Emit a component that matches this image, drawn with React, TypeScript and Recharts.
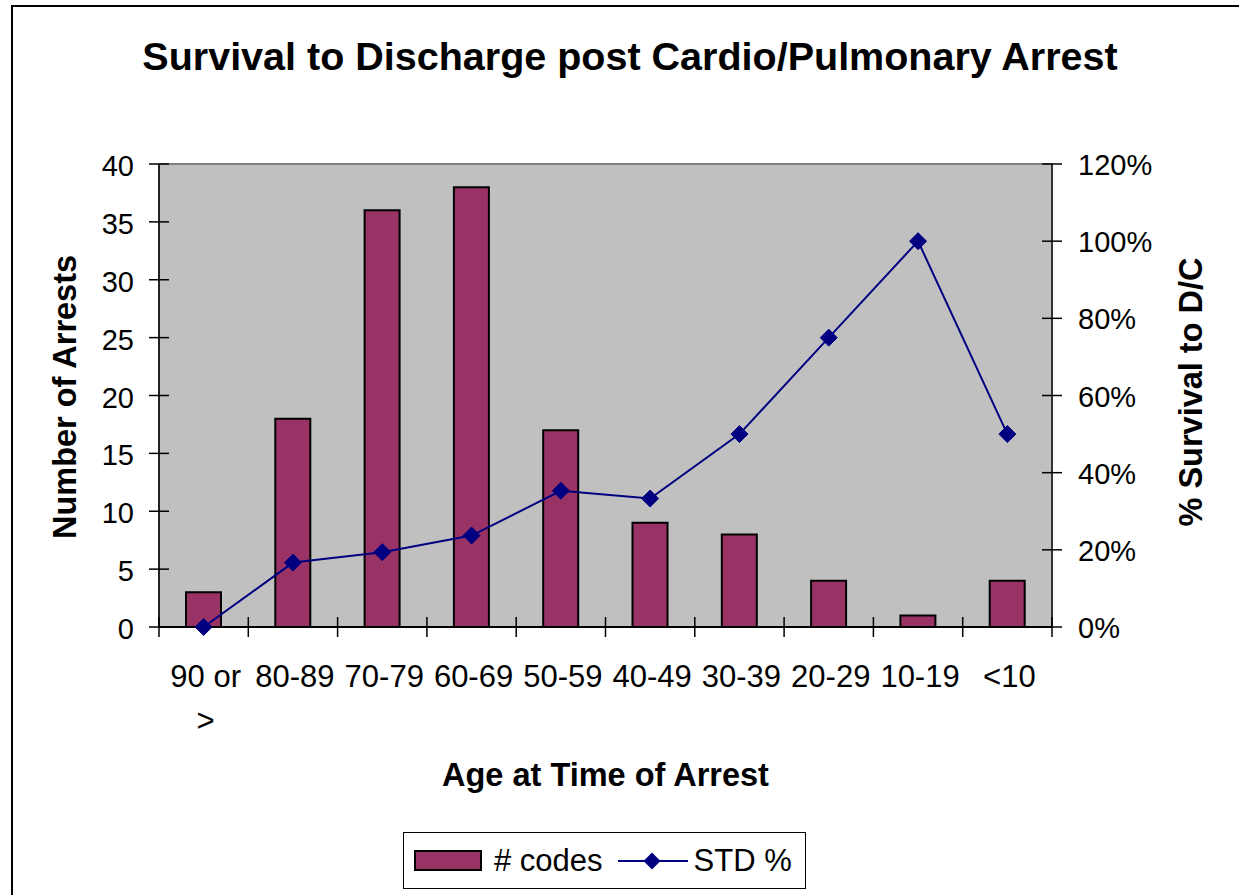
import React from 'react';
import { ComposedChart, Bar, Line, XAxis, YAxis, Legend, ReferenceLine, CartesianGrid } from 'recharts';

const categories = ['90 or >', '80-89', '70-79', '60-69', '50-59', '40-49', '30-39', '20-29', '10-19', '<10'];
const codes = [3, 18, 36, 38, 17, 9, 8, 4, 1, 4];
const stdPct = [0, 0.167, 0.194, 0.237, 0.353, 0.333, 0.5, 0.75, 1.0, 0.5];
const leftTicks = [0, 5, 10, 15, 20, 25, 30, 35, 40];
const rightTicks = [0, 0.2, 0.4, 0.6, 0.8, 1.0, 1.2];

const TITLE = 'Survival to Discharge post Cardio/Pulmonary Arrest';
const X_LABEL = 'Age at Time of Arrest';
const Y_LABEL = 'Number of Arrests';
const Y2_LABEL = '% Survival to D/C';
const BAR_NAME = '# codes';
const LINE_NAME = 'STD %';

const data = categories.map((c, i) => ({ cat: c, codes: codes[i], std: stdPct[i] }));

const W = 1239;
const H = 895;
const PLOT_LEFT = 159;
const PLOT_RIGHT = 1052;
const PLOT_TOP = 164;
const PLOT_BOTTOM = 627;
const BAND = (PLOT_RIGHT - PLOT_LEFT) / categories.length;
const FONT = '"Liberation Sans", Arial, sans-serif';
const BAR_COLOR = '#993366';
const LINE_COLOR = '#000080';
const X_FS = 31;

const charW = (ch: string) => {
  if (ch === ' ') return 0.278;
  if (ch === '-') return 0.333;
  if (ch === '<' || ch === '>') return 0.584;
  if (ch === 'r') return 0.333;
  return 0.556;
};

const wrapLabel = (label: string, maxW: number, fs: number) => {
  const words = label.split(' ');
  const lines: string[] = [];
  let cur = '';
  const width = (s: string) => s.split('').reduce((a, c) => a + charW(c) * fs, 0);
  words.forEach((w) => {
    const cand = cur ? cur + ' ' + w : w;
    if (cur && width(cand) > maxW) {
      lines.push(cur);
      cur = w;
    } else {
      cur = cand;
    }
  });
  if (cur) lines.push(cur);
  return lines;
};

const LeftTick = (props: any) => {
  const { x, y, payload } = props;
  return (
    <g>
      <line x1={x + 15} x2={x + 35} y1={y} y2={y} stroke="#000" strokeWidth={1.5} />
      <text x={x} y={y + 12} textAnchor="end" fontSize={29} fontFamily={FONT} fill="#000">
        {payload.value}
      </text>
    </g>
  );
};

const RightTick = (props: any) => {
  const { x, y, payload } = props;
  return (
    <g>
      <line x1={x - 36} x2={x - 16} y1={y} y2={y} stroke="#000" strokeWidth={1.5} />
      <text x={x} y={y + 11} textAnchor="start" fontSize={29} fontFamily={FONT} fill="#000">
        {Math.round(payload.value * 100) + '%'}
      </text>
    </g>
  );
};

const XTick = (props: any) => {
  const { x, y, payload, index } = props;
  const last = index === categories.length - 1;
  const lines = wrapLabel(String(payload.value), 86, X_FS);
  return (
    <g>
      <line x1={x - BAND / 2} x2={x - BAND / 2} y1={y - 20} y2={y} stroke="#000" strokeWidth={1.5} />
      {last && <line x1={x + BAND / 2} x2={x + BAND / 2} y1={y - 20} y2={y} stroke="#000" strokeWidth={1.5} />}
      <text textAnchor="middle" fontSize={X_FS} fontFamily={FONT} fill="#000">
        {lines.map((l, i) => (
          <tspan key={i} x={x + 2} y={y + 50 + i * 44}>
            {l}
          </tspan>
        ))}
      </text>
    </g>
  );
};

const Diamond = (props: any) => {
  const { cx, cy } = props;
  if (cx == null || cy == null) return null;
  const r = 8.5;
  return (
    <polygon
      points={`${cx},${cy - r} ${cx + r},${cy} ${cx},${cy + r} ${cx - r},${cy}`}
      fill={LINE_COLOR}
      stroke={LINE_COLOR}
    />
  );
};

const LegendContent = () => (
  <div
    style={{
      width: 403,
      height: 57,
      boxSizing: 'border-box',
      border: '1.5px solid #000',
      background: '#fff',
      display: 'flex',
      alignItems: 'center',
      fontFamily: FONT,
      fontSize: 31,
      color: '#000',
    }}
  >
    <svg width={80} height={30} style={{ marginLeft: 10 }}>
      <rect x={1} y={5} width={66} height={19} fill={BAR_COLOR} stroke="#000" strokeWidth={2} />
    </svg>
    <span>{BAR_NAME}</span>
    <svg width={72} height={30} style={{ marginLeft: 15 }}>
      <line x1={0} x2={70} y1={15} y2={15} stroke={LINE_COLOR} strokeWidth={2} />
      <polygon points="34,6.5 42.5,15 34,23.5 25.5,15" fill={LINE_COLOR} />
    </svg>
    <span style={{ marginLeft: 4 }}>{LINE_NAME}</span>
  </div>
);

export default function App() {
  return (
    <div style={{ position: 'absolute', left: 0, top: 0, width: W, height: H, overflow: 'hidden', background: '#fff' }}>
      <div
        style={{
          position: 'absolute',
          left: 11,
          top: 5,
          width: W,
          height: H,
          borderLeft: '2px solid #000',
          borderTop: '2px solid #000',
        }}
      />
      <div style={{ position: 'absolute', left: 0, top: 0 }}>
        <ComposedChart
          width={W}
          height={H}
          data={data}
          margin={{ top: PLOT_TOP, bottom: H - PLOT_BOTTOM - 30, left: PLOT_LEFT - 60, right: W - PLOT_RIGHT - 100 }}
          barSize={35}
        >
          <CartesianGrid fill="#C0C0C0" horizontal={false} vertical={false} stroke="none" />
          <XAxis
            dataKey="cat"
            height={30}
            tickSize={10}
            tickMargin={0}
            tickLine={false}
            axisLine={{ stroke: '#000', strokeWidth: 2 }}
            tick={<XTick />}
            interval={0}
          />
          <YAxis
            yAxisId="left"
            orientation="left"
            width={60}
            domain={[0, 40]}
            ticks={leftTicks}
            tickSize={10}
            tickMargin={15}
            tickLine={false}
            axisLine={{ stroke: '#222', strokeWidth: 2 }}
            tick={<LeftTick />}
            interval={0}
          />
          <YAxis
            yAxisId="right"
            orientation="right"
            width={100}
            domain={[0, 1.2]}
            ticks={rightTicks}
            tickSize={10}
            tickMargin={16}
            tickLine={false}
            axisLine={{ stroke: '#333', strokeWidth: 2 }}
            tick={<RightTick />}
            interval={0}
          />
          <ReferenceLine yAxisId="left" y={40} stroke="#808080" strokeWidth={2} />
          <Bar
            yAxisId="left"
            dataKey="codes"
            name={BAR_NAME}
            fill={BAR_COLOR}
            stroke="#000"
            strokeWidth={2}
            isAnimationActive={false}
          />
          <Line
            yAxisId="right"
            dataKey="std"
            name={LINE_NAME}
            stroke={LINE_COLOR}
            strokeWidth={2}
            dot={<Diamond />}
            activeDot={false}
            type="linear"
            isAnimationActive={false}
          />
          <Legend
            layout="horizontal"
            align="center"
            verticalAlign="middle"
            wrapperStyle={{ left: 403, top: 832, width: 403, height: 57 }}
            content={<LegendContent />}
          />
        </ComposedChart>
      </div>
      <svg width={W} height={H} style={{ position: 'absolute', left: 0, top: 0, pointerEvents: 'none' }}>
        <text x={630} y={70} textAnchor="middle" fontSize={39.5} fontWeight="bold" fontFamily={FONT} fill="#000">
          {TITLE}
        </text>
        <text x={(PLOT_LEFT + PLOT_RIGHT) / 2} y={786} textAnchor="middle" fontSize={32.5} fontWeight="bold" fontFamily={FONT} fill="#000">
          {X_LABEL}
        </text>
        <text x={76} y={397} transform="rotate(-90, 76, 397)" textAnchor="middle" fontSize={32.5} fontWeight="bold" fontFamily={FONT} fill="#000">
          {Y_LABEL}
        </text>
        <text x={1202} y={392} transform="rotate(-90, 1202, 392)" textAnchor="middle" fontSize={32.5} fontWeight="bold" fontFamily={FONT} fill="#000">
          {Y2_LABEL}
        </text>
      </svg>
    </div>
  );
}
